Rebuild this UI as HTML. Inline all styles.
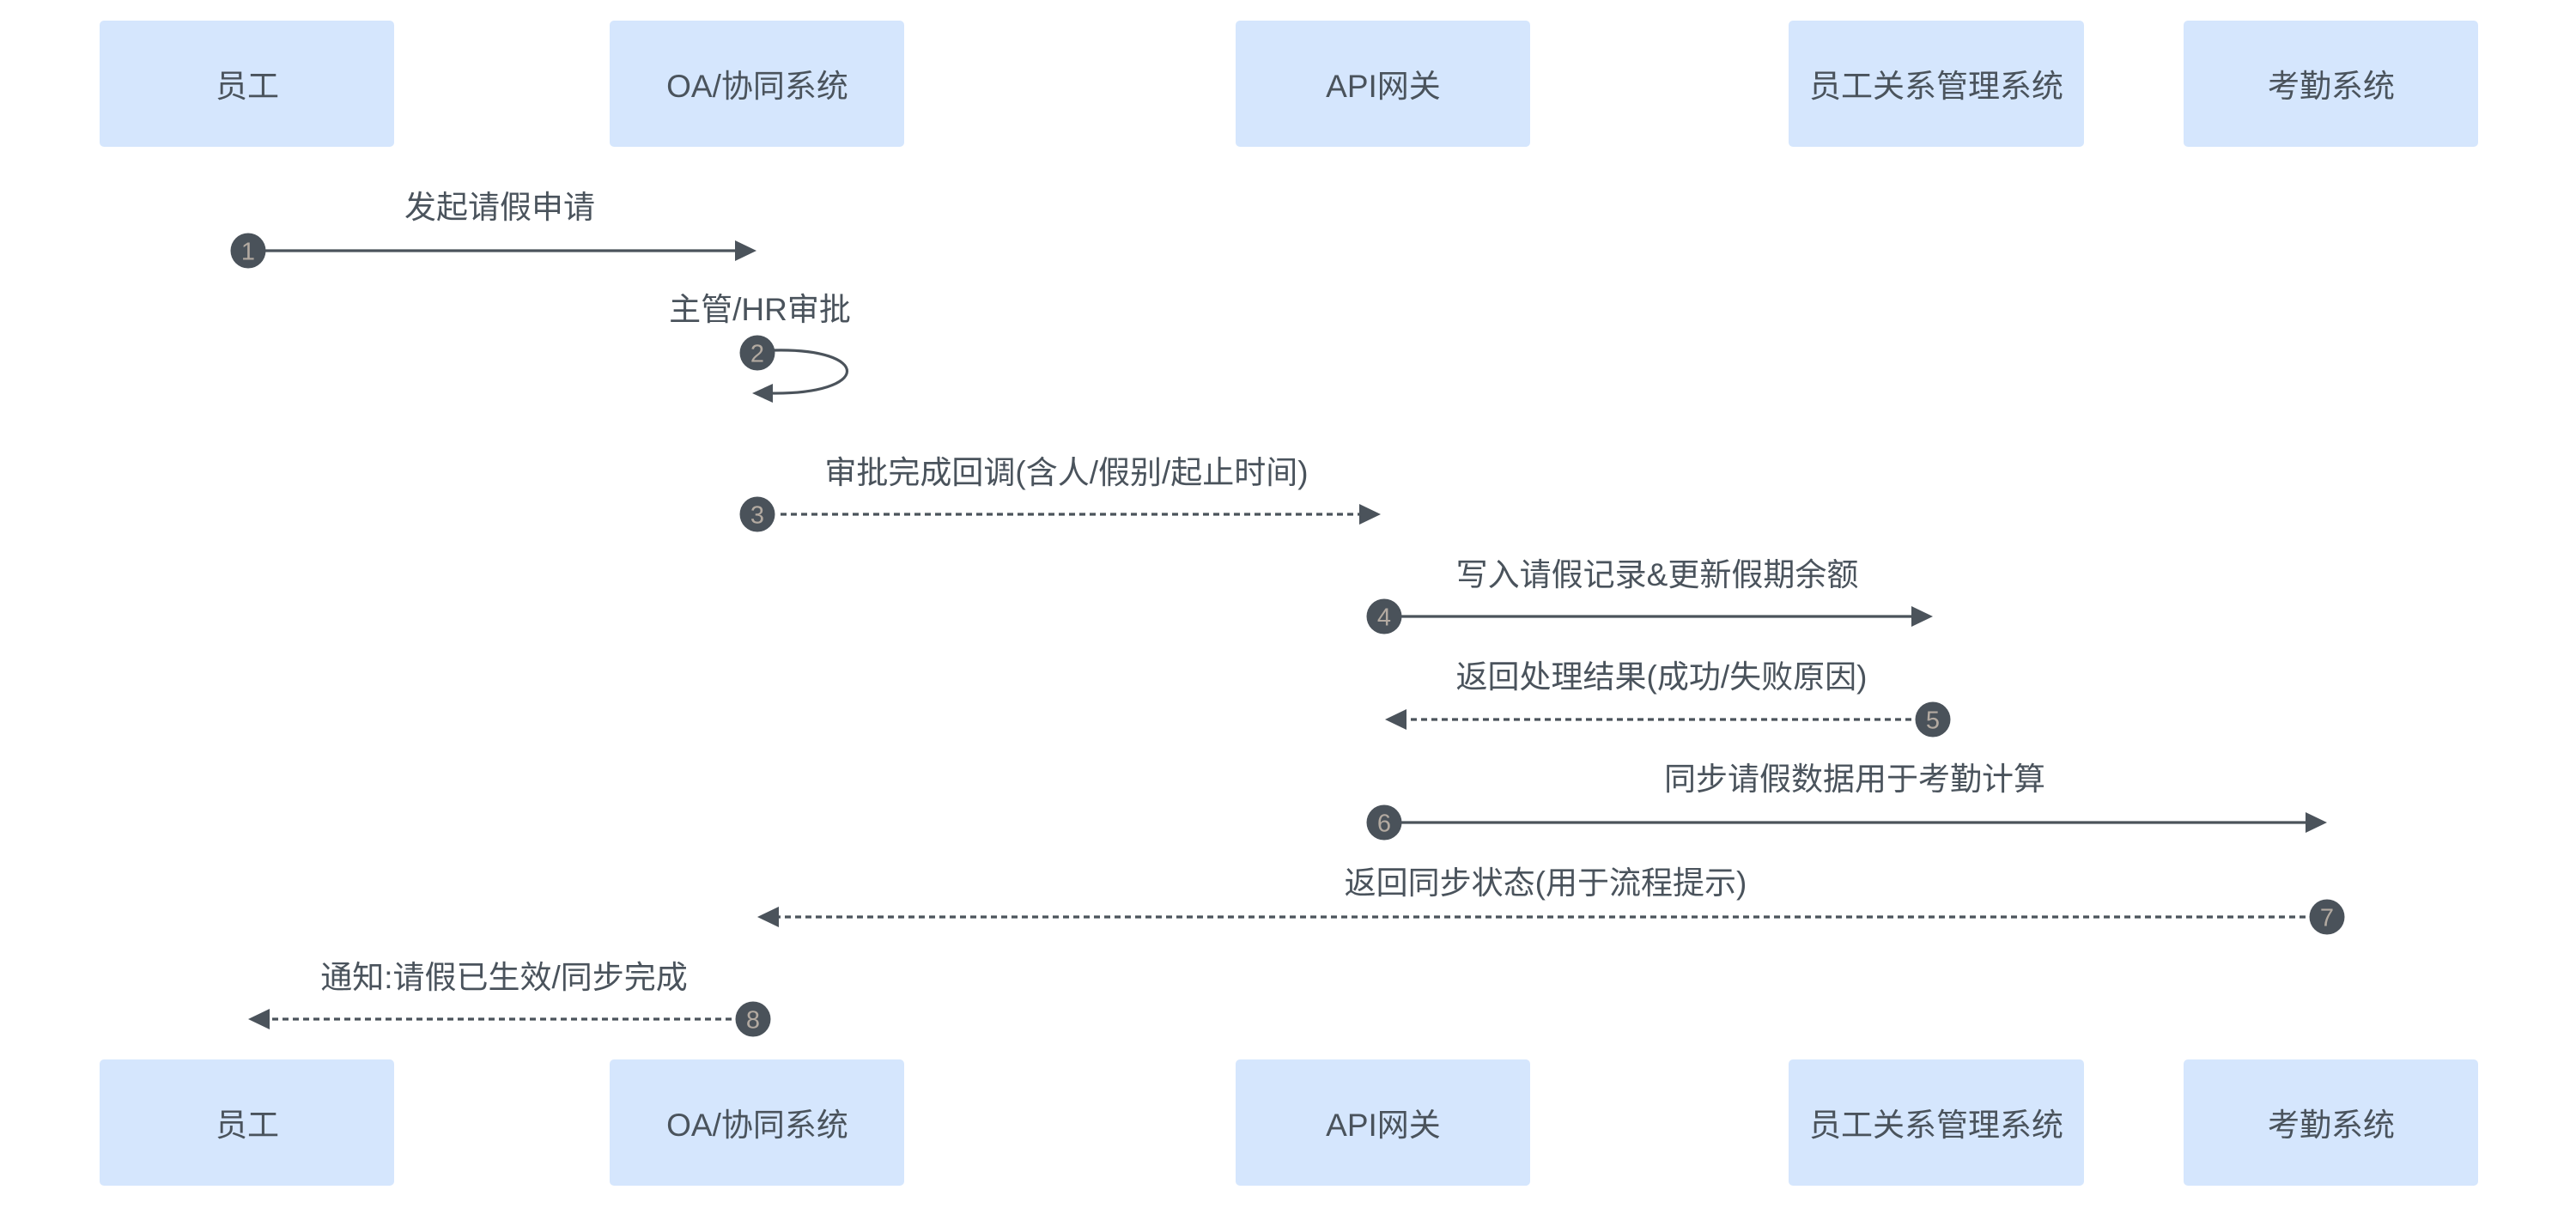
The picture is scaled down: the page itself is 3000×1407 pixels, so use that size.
<!DOCTYPE html>
<html>
<head>
<meta charset="utf-8">
<style>
  html, body { margin:0; padding:0; background:#ffffff; }
  svg { display:block; }
  .lbl { font-family: "Liberation Sans", "Noto Sans CJK SC", sans-serif; font-size:37px; fill:#4a535c; text-anchor:middle; }
  .num { font-family: "Liberation Sans Narrow", "Liberation Sans", sans-serif; font-size:29px; fill:#b3aaa1; text-anchor:middle; }
  .box { fill:#d5e6fd; }
  .ln { stroke:#4b535b; stroke-width:3.2; fill:none; }
  .dl { stroke:#4b535b; stroke-width:3.2; fill:none; stroke-dasharray:7 5; }
  .ah { fill:#4b535b; }
  .cir { fill:#4a525a; }
</style>
</head>
<body>
<svg width="3000" height="1407" viewBox="0 0 3000 1407" xmlns="http://www.w3.org/2000/svg">
  <!-- top boxes -->
  <rect class="box" x="116" y="24" width="343" height="147" rx="5"/>
  <rect class="box" x="710" y="24" width="343" height="147" rx="5"/>
  <rect class="box" x="1439" y="24" width="343" height="147" rx="5"/>
  <rect class="box" x="2083" y="24" width="344" height="147" rx="5"/>
  <rect class="box" x="2543" y="24" width="343" height="147" rx="5"/>
  <text class="lbl" x="288" y="113">员工</text>
  <text class="lbl" x="882" y="113">OA/协同系统</text>
  <text class="lbl" x="1611" y="113">API网关</text>
  <text class="lbl" x="2255" y="113">员工关系管理系统</text>
  <text class="lbl" x="2715" y="113">考勤系统</text>

  <!-- bottom boxes -->
  <rect class="box" x="116" y="1234" width="343" height="147" rx="5"/>
  <rect class="box" x="710" y="1234" width="343" height="147" rx="5"/>
  <rect class="box" x="1439" y="1234" width="343" height="147" rx="5"/>
  <rect class="box" x="2083" y="1234" width="344" height="147" rx="5"/>
  <rect class="box" x="2543" y="1234" width="343" height="147" rx="5"/>
  <text class="lbl" x="288" y="1323">员工</text>
  <text class="lbl" x="882" y="1323">OA/协同系统</text>
  <text class="lbl" x="1611" y="1323">API网关</text>
  <text class="lbl" x="2255" y="1323">员工关系管理系统</text>
  <text class="lbl" x="2715" y="1323">考勤系统</text>

  <!-- 1 -->
  <text class="lbl" x="582" y="254">发起请假申请</text>
  <line class="ln" x1="300" y1="292" x2="858" y2="292"/>
  <polygon class="ah" points="881,292 856,280 856,304"/>
  <circle class="cir" cx="289" cy="292" r="20.5"/>
  <text class="num" x="289" y="302.5">1</text>

  <!-- 2 self -->
  <text class="lbl" x="885" y="373">主管/HR审批</text>
  <path class="ln" d="M 900 408 C 1016 405, 1016 460, 896 458"/>
  <polygon class="ah" points="876,458 900,447 900,469"/>
  <circle class="cir" cx="882" cy="411" r="20.5"/>
  <text class="num" x="882" y="421.5">2</text>

  <!-- 3 -->
  <text class="lbl" x="1242" y="563">审批完成回调(含人/假别/起止时间)</text>
  <line class="dl" x1="909" y1="599" x2="1586" y2="599"/>
  <polygon class="ah" points="1608,599 1583,587 1583,611"/>
  <circle class="cir" cx="882" cy="599" r="20.5"/>
  <text class="num" x="882" y="609.5">3</text>

  <!-- 4 -->
  <text class="lbl" x="1930" y="682">写入请假记录&amp;更新假期余额</text>
  <line class="ln" x1="1625" y1="718" x2="2228" y2="718"/>
  <polygon class="ah" points="2251,718 2226,706 2226,730"/>
  <circle class="cir" cx="1612" cy="718" r="20.5"/>
  <text class="num" x="1612" y="728.5">4</text>

  <!-- 5 -->
  <text class="lbl" x="1935" y="801">返回处理结果(成功/失败原因)</text>
  <line class="dl" x1="2226" y1="838" x2="1636" y2="838"/>
  <polygon class="ah" points="1613,838 1638,826 1638,850"/>
  <circle class="cir" cx="2251" cy="838" r="20.5"/>
  <text class="num" x="2251" y="848.5">5</text>

  <!-- 6 -->
  <text class="lbl" x="2160" y="920">同步请假数据用于考勤计算</text>
  <line class="ln" x1="1625" y1="958" x2="2688" y2="958"/>
  <polygon class="ah" points="2710,958 2685,946 2685,970"/>
  <circle class="cir" cx="1612" cy="958" r="20.5"/>
  <text class="num" x="1612" y="968.5">6</text>

  <!-- 7 -->
  <text class="lbl" x="1800" y="1041">返回同步状态(用于流程提示)</text>
  <line class="dl" x1="2685" y1="1068" x2="905" y2="1068"/>
  <polygon class="ah" points="882,1068 907,1056 907,1080"/>
  <circle class="cir" cx="2710" cy="1068" r="20.5"/>
  <text class="num" x="2710" y="1078.5">7</text>

  <!-- 8 -->
  <text class="lbl" x="587" y="1151">通知:请假已生效/同步完成</text>
  <line class="dl" x1="852" y1="1187" x2="312" y2="1187"/>
  <polygon class="ah" points="289,1187 314,1175 314,1199"/>
  <circle class="cir" cx="877" cy="1187" r="20.5"/>
  <text class="num" x="877" y="1197.5">8</text>
</svg>
</body>
</html>
